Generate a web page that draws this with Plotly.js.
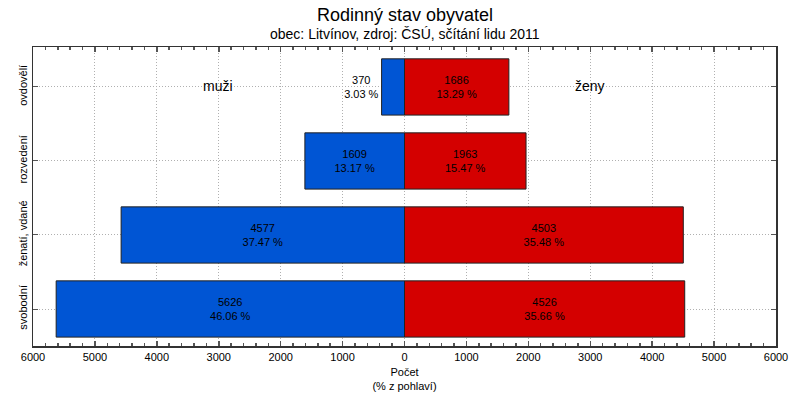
<!DOCTYPE html>
<html>
<head>
<meta charset="utf-8">
<script src="https://cdn.plot.ly/plotly-3.0.1.min.js"></script>
<style>html,body{margin:0;padding:0;background:#fff;}</style>
</head>
<body>
<div id="chart" style="width:800px;height:400px;"></div>
<script>
const categories = ["svobodní", "ženatí, vdané", "rozvedení", "ovdovělí"];
const menValues = [5626, 4577, 1609, 370];
const womenValues = [4526, 4503, 1963, 1686];
const menPct = ["46.06", "37.47", "13.17", "3.03"];
const womenPct = ["35.66", "35.48", "15.47", "13.29"];
const tickValues = [-6000, -5000, -4000, -3000, -2000, -1000, 0, 1000, 2000, 3000, 4000, 5000, 6000];
const tickLabels = ["6000", "5000", "4000", "3000", "2000", "1000", "0", "1000", "2000", "3000", "4000", "5000", "6000"];
const titleText = "Rodinný stav obyvatel";
const subtitleText = "obec: Litvínov, zdroj: ČSÚ, sčítání lidu 2011";

const menText = menValues.map((v, i) => v + "<br>" + menPct[i] + " %");
const womenText = womenValues.map((v, i) => v + "<br>" + womenPct[i] + " %");
const menPos = menValues.map(v => v < 600 ? "outside" : "inside");

const ff = "Liberation Sans, Arial, sans-serif";

const traces = [
  {
    type: "bar", orientation: "h", name: "muži",
    y: categories, x: menValues.map(v => -v),
    text: menText, textposition: menPos, insidetextanchor: "middle",
    textfont: {family: ff, size: 11, color: "#000"},
    outsidetextfont: {family: ff, size: 11, color: "#000"},
    insidetextfont: {family: ff, size: 11, color: "#000"},
    cliponaxis: false,
    constraintext: "none",
    marker: {color: "#0055d4", line: {color: "#222", width: 1}},
    width: 0.76, hoverinfo: "none"
  },
  {
    type: "bar", orientation: "h", name: "ženy",
    y: categories, x: womenValues,
    text: womenText, textposition: "inside", insidetextanchor: "middle",
    textfont: {family: ff, size: 11, color: "#000"},
    insidetextfont: {family: ff, size: 11, color: "#000"},
    constraintext: "none",
    marker: {color: "#d40000", line: {color: "#222", width: 1}},
    width: 0.76, hoverinfo: "none"
  }
];

const layout = {
  width: 800, height: 400,
  margin: {l: 33, r: 24, t: 47, b: 54},
  paper_bgcolor: "#fff", plot_bgcolor: "#fff",
  showlegend: false,
  barmode: "relative",
  font: {family: ff, size: 11, color: "#000"},
  xaxis: {
    range: [-6000, 6000],
    tickmode: "array", tickvals: tickValues, ticktext: tickLabels,
    ticks: "inside", ticklen: 5, tickwidth: 1.5, tickcolor: "#555",
    minor: {dtick: 200, ticks: "inside", ticklen: 3, tickcolor: "#555", showgrid: false},
    showline: true, linecolor: "#333", linewidth: 1.5, mirror: "ticks",
    showgrid: true, gridcolor: "#b0b0b0", griddash: "1px,2px", gridwidth: 1,
    zeroline: false,
    tickfont: {family: ff, size: 11, color: "#000"},
    title: {text: "Počet<br>(% z pohlaví)", font: {family: ff, size: 11, color: "#000"}, standoff: 6}
  },
  yaxis: {
    range: [-0.5, 3.54],
    ticks: "inside", ticklen: 5, tickcolor: "#555",
    showline: true, linecolor: "#333", linewidth: 1.5, mirror: "ticks",
    showgrid: true, gridcolor: "#b0b0b0", griddash: "1px,2px", gridwidth: 1,
    tickangle: -90,
    tickfont: {family: ff, size: 11, color: "#000"}
  },
  annotations: [
    {text: titleText, xref: "paper", yref: "paper", x: 0.5, y: 1, yshift: 32, xanchor: "center", yanchor: "middle", showarrow: false, font: {family: ff, size: 18, color: "#000"}, xshift: 0},
    {text: subtitleText, xref: "paper", yref: "paper", x: 0.5, y: 1, yshift: 13, xanchor: "center", yanchor: "middle", showarrow: false, font: {family: ff, size: 14, color: "#000"}},
    {text: "muži", xref: "paper", yref: "paper", x: 0.249, y: 0.87, xanchor: "center", yanchor: "middle", showarrow: false, font: {family: ff, size: 14, color: "#000"}},
    {text: "ženy", xref: "paper", yref: "paper", x: 0.75, y: 0.87, xanchor: "center", yanchor: "middle", showarrow: false, font: {family: ff, size: 14, color: "#000"}}
  ]
};

Plotly.newPlot("chart", traces, layout, {displayModeBar: false, staticPlot: true});
</script>
</body>
</html>
